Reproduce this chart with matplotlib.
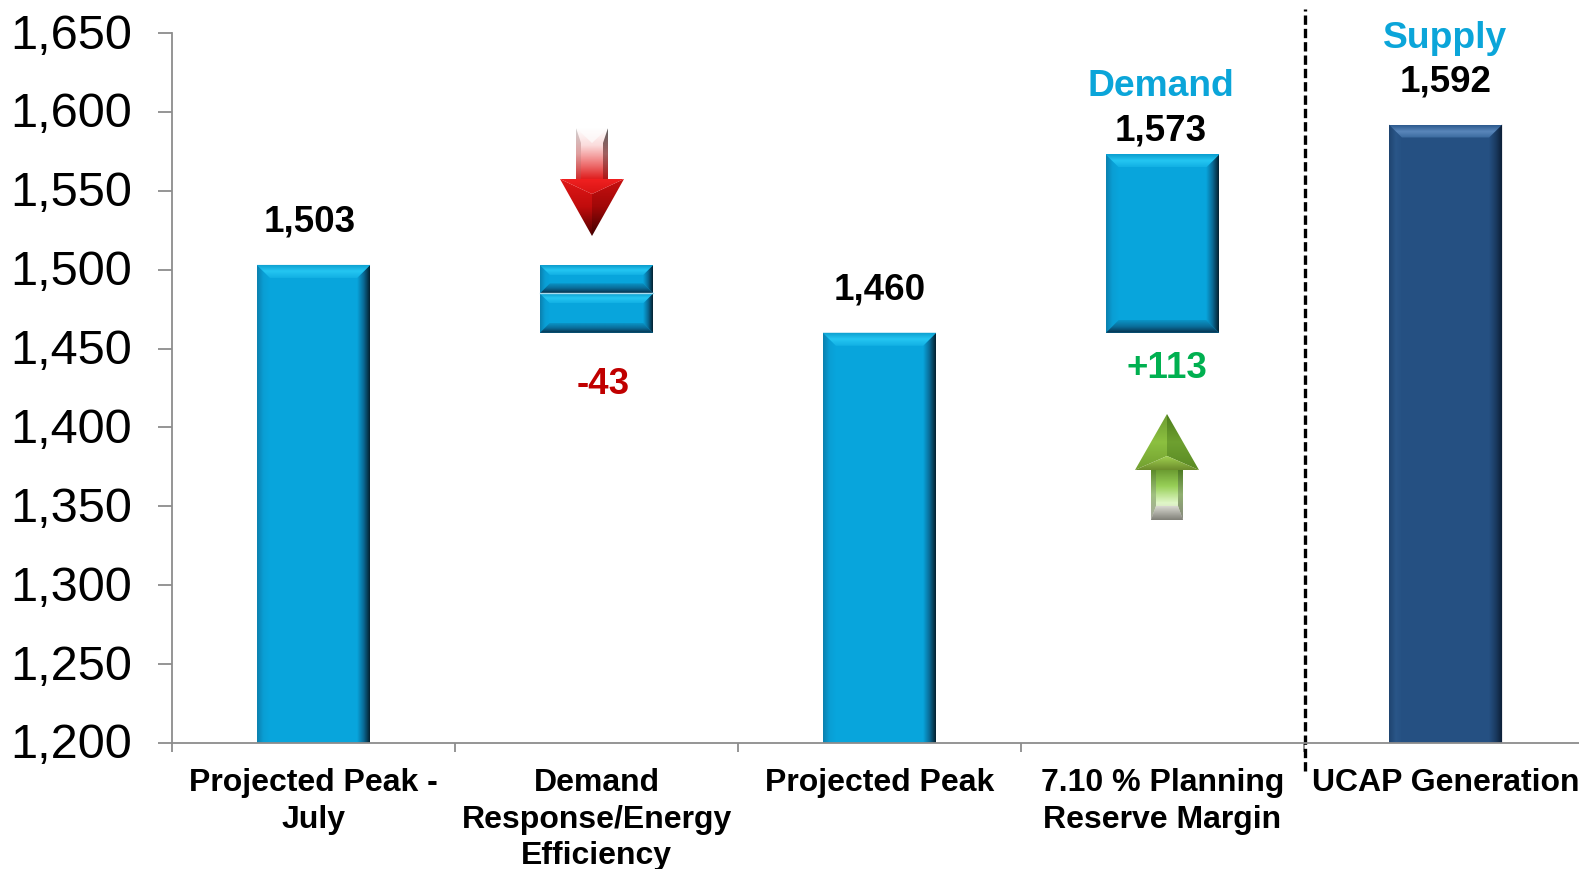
import matplotlib
matplotlib.use("Agg")
import matplotlib.pyplot as plt
import numpy as np
from matplotlib.colors import LinearSegmentedColormap
from matplotlib.patches import Polygon
from matplotlib.transforms import ScaledTranslation

categories = ["Projected Peak -\nJuly", "Demand\nResponse/Energy\nEfficiency", "Projected Peak",
              "7.10 % Planning\nReserve Margin", "UCAP Generation"]
bar_bottoms = [1200, 1460, 1200, 1460, 1200]
bar_tops = [1503, 1503, 1460, 1573, 1592]
bar_split = 1485
bar_labels = ["1,503", "-43", "1,460", "1,573", "1,592"]
y_ticks = [1200, 1250, 1300, 1350, 1400, 1450, 1500, 1550, 1600, 1650]

W, H = 1579, 869
AX_L, AX_R, AX_T, AX_B = 172, 1587, 33, 743

BLUE = {"face": "#08a5dc", "top": ["#0c9ccc", "#24c6f2", "#12b0e4"], "bottom": ["#07304a", "#0a6d9a", "#0a94c6"],
        "left": ["#0a80ae", "#0a9ed4", "#08a5dc"], "right": ["#04202f", "#0a6c98", "#08a5dc"]}
NAVY = {"face": "#255082", "top": ["#2c5a8e", "#5a86ba", "#3a6a9e"], "bottom": ["#0f2440", "#1a3a60", "#255082"],
        "left": ["#1f4470", "#2a5688", "#255082"], "right": ["#0a1a30", "#1a3a60", "#255082"]}

plt.rcParams["font.family"] = ["Liberation Sans", "DejaVu Sans"]

fig = plt.figure(figsize=(W / 100, H / 100), dpi=100)
ax = fig.add_axes([AX_L / W, 1 - AX_B / H, (AX_R - AX_L) / W, (AX_B - AX_T) / H])
ax.set_xlim(0, 5)
ax.set_ylim(1200, 1650)
ax.set_autoscale_on(False)
px_x = 5 / (AX_R - AX_L)
px_y = 450 / (AX_B - AX_T)


def gradient_poly(pts, colors, start, end, zorder=3):
    # fill a polygon with a linear gradient running from start to end (both data coords)
    cmap = LinearSegmentedColormap.from_list("g", colors)
    xs, ys = zip(*pts)
    x0, x1, y0, y1 = min(xs), max(xs), min(ys), max(ys)
    mx, my = np.meshgrid(np.linspace(x0, x1, 60), np.linspace(y1, y0, 60))
    dx, dy = end[0] - start[0], end[1] - start[1]
    t = ((mx - start[0]) * dx / px_x ** 2 + (my - start[1]) * dy / px_y ** 2) / (dx ** 2 / px_x ** 2 + dy ** 2 / px_y ** 2)
    im = ax.imshow(np.clip(t, 0, 1), cmap=cmap, vmin=0, vmax=1, aspect="auto", extent=(x0, x1, y0, y1),
                   origin="upper", interpolation="bilinear", zorder=zorder)
    im.set_clip_path(Polygon(pts, closed=True, transform=ax.transData))


def bevel_bar(x, bottom, top, style, bw=0.4, bevel=13, has_bottom=True):
    ax.bar(x, top - bottom, bw, bottom=bottom, color=style["face"], zorder=2)
    x0, x1 = x - bw / 2, x + bw / 2
    bx, by = bevel * px_x, bevel * px_y
    bb = by if has_bottom else 0
    ix0, ix1 = x0 + bx, x1 - bx
    gradient_poly([(x0, bottom), (x0, top), (ix0, top - by), (ix0, bottom + bb)], style["left"], (x0, 0), (ix0, 0))
    gradient_poly([(x1, bottom), (x1, top), (ix1, top - by), (ix1, bottom + bb)], style["right"], (x1, 0), (ix1, 0))
    gradient_poly([(x0, top), (x1, top), (ix1, top - by), (ix0, top - by)], style["top"], (0, top), (0, top - by))
    if has_bottom:
        gradient_poly([(x0, bottom), (x1, bottom), (ix1, bottom + bb), (ix0, bottom + bb)], style["bottom"],
                      (0, bottom), (0, bottom + bb))


def arrow_3d(cx, tail, neck, tip, shaft_colors, side_colors, cap_colors, head_left, head_right, head_top,
             notch=14, shaft=32, head=64, v_cap=False):
    # faceted block arrow, given in pixel rows of the figure
    def P(u, row):
        return ((cx + u - AX_L) * px_x, 1200 + (AX_B - row) * px_y)

    sign = 1 if tip > tail else -1
    s, h = shaft / 2, head / 2
    in_s = s - 5
    inner = neck + sign * notch
    cap = tail + sign * notch
    gradient_poly([P(-s, tail), P(s, tail), P(s, neck), P(-s, neck)], shaft_colors, P(0, tail), P(0, neck), zorder=4)
    gradient_poly([P(-s, tail), P(-in_s, cap), P(-in_s, neck), P(-s, neck)], side_colors[0], P(0, tail), P(0, neck), zorder=4)
    gradient_poly([P(s, tail), P(in_s, cap), P(in_s, neck), P(s, neck)], side_colors[1], P(0, tail), P(0, neck), zorder=4)
    if v_cap:
        gradient_poly([P(-s, tail), P(s, tail), P(0, cap)], cap_colors, P(0, tail), P(0, cap), zorder=4)
    else:
        gradient_poly([P(-s, tail), P(s, tail), P(in_s, cap), P(-in_s, cap)], cap_colors, P(0, tail), P(0, cap), zorder=4)
    gradient_poly([P(-h, neck), P(0, inner), P(0, tip)], head_left, P(0, neck), P(0, tip), zorder=5)
    gradient_poly([P(h, neck), P(0, inner), P(0, tip)], head_right, P(0, neck), P(0, tip), zorder=5)
    gradient_poly([P(-h, neck), P(h, neck), P(0, inner)], head_top, P(0, neck), P(0, inner), zorder=5)


for i in range(5):
    style = NAVY if i == 4 else BLUE
    if i == 1:
        bevel_bar(i + 0.5, bar_split, bar_tops[i], style, bevel=10)
        bevel_bar(i + 0.5, bar_bottoms[i], bar_split, style, bevel=10)
        ax.plot([i + 0.3, i + 0.7], [bar_split, bar_split], color="#a8dcee", lw=1, zorder=4)
    else:
        bevel_bar(i + 0.5, bar_bottoms[i], bar_tops[i], style, has_bottom=bar_bottoms[i] > 1200)

arrow_3d(592, 128, 179, 236,
         ["#ffffff", "#fbdcdc", "#f08080", "#e02020"],
         (["#d0d0d0", "#e0a0a0", "#d03030"], ["#606060", "#a06060", "#b01818"]),
         ["#ffffff", "#fdf4f4"],
         ["#e01818", "#c00c0c", "#500000"], ["#c81010", "#a00808", "#400000"], ["#f02020", "#d81414"],
         notch=15, v_cap=True)
arrow_3d(1167, 520, 470, 414,
         ["#c8c8c0", "#e0f6c8", "#98d058", "#6a9a30"],
         (["#a8a8a0", "#a0c080", "#5c8a28"], ["#888880", "#90b070", "#4c7a20"]),
         ["#808078", "#d8d8d0"],
         ["#72a030", "#8cc040", "#6c9c30"], ["#5a8a24", "#6ea030", "#4c7c1c"], ["#6c8c2c", "#a0d050"])

label_dx = [-0.015, 0, 0, -0.005, 0]
label_dy = [27, 0, 27, 15, 27]
for i, (label, top) in enumerate(zip(bar_labels, bar_tops)):
    if i == 1:
        continue
    ax.text(i + 0.5 + label_dx[i], top + label_dy[i], label, ha="center", va="center", fontsize=26.5,
            fontweight="bold", color="black", zorder=5)
ax.text(1.525, 1427, bar_labels[1], ha="center", va="center", fontsize=26.5, fontweight="bold", color="#c00000")
ax.text(3.515, 1437.5, "+113", ha="center", va="center", fontsize=26.5, fontweight="bold", color="#00b050")
ax.text(3.495, 1616, "Demand", ha="center", va="center", fontsize=26.8, fontweight="bold", color="#0ba5d9")
ax.text(4.5, 1646.5, "Supply", ha="center", va="center", fontsize=26.8, fontweight="bold", color="#0ba5d9")

ax.spines[["top", "right"]].set_visible(False)
ax.spines["left"].set_color("#8c8c8c")
ax.spines["bottom"].set_color("#8c8c8c")
ax.spines["left"].set_linewidth(1.3)
ax.spines["bottom"].set_linewidth(1.3)
ax.spines["bottom"].set_zorder(6)

ax.set_yticks(y_ticks)
ax.set_yticklabels([f"{v:,}" for v in y_ticks], fontsize=35)
ax.tick_params(axis="y", length=10, width=1.3, color="#8c8c8c", pad=19)
shift_up = ScaledTranslation(0, 2 / 100, fig.dpi_scale_trans)
for tick_label in ax.get_yticklabels():
    tick_label.set_transform(tick_label.get_transform() + shift_up)
ax.set_xticks(range(6))
ax.set_xticklabels([])
ax.tick_params(axis="x", length=6.5, width=1.3, color="#8c8c8c")
for i, cat in enumerate(categories):
    ax.annotate(cat, xy=(i + 0.5, 1200), xycoords="data", xytext=(0, -18.2), textcoords="offset points",
                ha="center", va="top", fontsize=23, fontweight="bold", linespacing=1.28, annotation_clip=False)

# demand / supply divider
div_x = (1305 - AX_L) * px_x
ax.plot([div_x, div_x], [1200 - 28 * px_y, 1200 + (AX_B - 9) * px_y], color="black", lw=2.4,
        dashes=(2.8, 1.2), clip_on=False, zorder=6)

fig.savefig("out.png", dpi=100, facecolor="white")
plt.close(fig)
